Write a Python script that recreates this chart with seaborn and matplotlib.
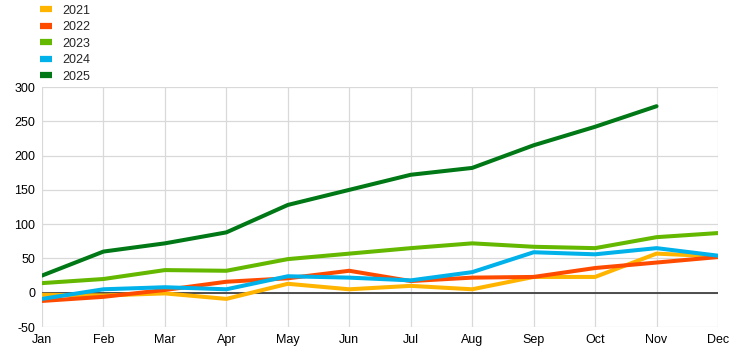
import pandas as pd
import numpy as np
import matplotlib
matplotlib.use("Agg")
import matplotlib.pyplot as plt
import seaborn as sns

months = ["Jan", "Feb", "Mar", "Apr", "May", "Jun",
          "Jul", "Aug", "Sep", "Oct", "Nov", "Dec"]

# values
y2021 = [-3, -4, -1, -9, 13, 5, 10, 5, 23, 23, 57, 53]
y2022 = [-12, -6, 4, 16, 21, 32, 17, 22, 23, 36, 44, 52]
y2023 = [14, 20, 33, 32, 49, 57, 65, 72, 67, 65, 81, 87]
y2024 = [-9, 5, 8, 5, 24, 22, 18, 30, 59, 56, 65, 54]
y2025 = [25, 60, 72, 88, 128, 150, 172, 182, 215, 242, 272, np.nan]

series = {"2021": y2021, "2022": y2022, "2023": y2023,
          "2024": y2024, "2025": y2025}
colors = {"2021": "#FFB400", "2022": "#FF4B00", "2023": "#65B800",
          "2024": "#00B1EA", "2025": "#007816"}

rows = []
for year, vals in series.items():
    for i, v in enumerate(vals):
        rows.append({"month": i, "value": v, "year": year})
df = pd.DataFrame(rows)

sns.set_style("white")
plt.rcParams["font.family"] = ["Liberation Sans", "DejaVu Sans"]
plt.rcParams["axes.unicode_minus"] = False

fig = plt.figure(figsize=(7.44, 3.54), dpi=100)
ax = fig.add_axes([42 / 744, 1 - 327 / 354, 676 / 744, 240 / 354])

ax.axhline(0, color="#404040", lw=1.3, zorder=1)
sns.lineplot(data=df, x="month", y="value", hue="year", palette=colors,
             lw=2.9, ax=ax, zorder=3)

ax.set_xlim(0, 11)
ax.set_ylim(-50, 300)
ax.set_xticks(range(12))
ax.set_xticklabels(months)
ax.set_yticks(range(-50, 301, 50))
ax.grid(True, color="#d9d9d9", lw=0.9, zorder=0)
ax.set_axisbelow(True)
for s in ax.spines.values():
    s.set_visible(False)
ax.tick_params(length=0, labelsize=9, colors="#000000", pad=5)
ax.set_xlabel("")
ax.set_ylabel("")

handles, labels = ax.get_legend_handles_labels()
for h in handles:
    h.set_linewidth(4.5)
    h.set_solid_capstyle("butt")
ax.get_legend().remove()
fig.legend(handles, labels, loc="upper left", bbox_to_anchor=(0.052, 0.99),
           frameon=False, fontsize=9, handlelength=1.0, handletextpad=0.8,
           labelspacing=0.36, borderaxespad=0, borderpad=0.1)

fig.savefig("out.png", dpi=100)
